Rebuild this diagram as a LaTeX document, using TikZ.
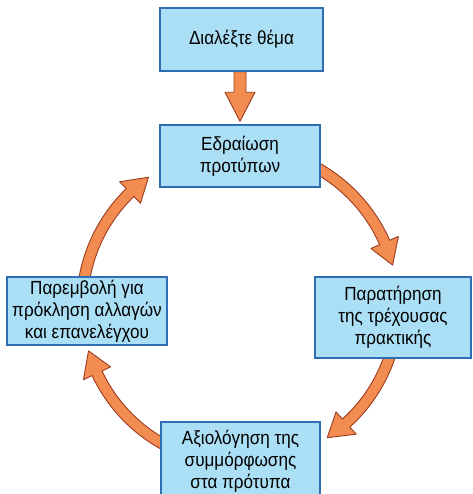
\documentclass[tikz,border=0pt]{standalone}
\usepackage{fontspec}
\setmainfont{Liberation Sans}[FakeStretch=0.9]
\usetikzlibrary{calc,positioning}
\pgfdeclarelayer{background}
\pgfsetlayers{background,main}
\definecolor{boxfill}{HTML}{ABDFF5}
\definecolor{boxline}{HTML}{2F6EB5}
\definecolor{arrfill}{HTML}{F28C50}
\definecolor{arrline}{HTML}{9C3B1F}
\tikzset{
  stage/.style={
    shape = rectangle,
    draw = boxline,
    line width = 1.4pt,
    fill = boxfill,
    align = center,
    inner sep = 0pt,
    font = \fontsize{19}{22}\selectfont
  },
  blockarrow/.style={
    draw = arrline,
    line width = 0.9pt,
    fill = arrfill,
    line join = round
  },
}

\begin{document}
\begin{tikzpicture}[x=1pt,y=1pt]
\path[use as bounding box, clip] (0,0) rectangle (472,494);
\coordinate (cyc) at (240,188);
\node[stage, minimum width=163pt, minimum height=63pt] (topic) at (241.5,454.5) {Διαλέξτε θέμα};
\node[stage, minimum width=160pt, minimum height=62pt] (std) at (240,338) {Εδραίωση\\προτύπων};
\node[stage, minimum width=156pt, minimum height=81pt] (observe) at (393,176.5) {Παρατήρηση\\της τρέχουσας\\πρακτικής};
\node[stage, minimum width=159pt, minimum height=78pt] (assess) at (240.5,33) {Αξιολόγηση της\\συμμόρφωσης\\στα πρότυπα};
\node[stage, minimum width=160pt, minimum height=68pt] (intervene) at (87,183) {Παρεμβολή για\\πρόκληση αλλαγών\\και επανελέγχου};
\begin{pgfonlayer}{background}
% straight arrow into the cycle
\draw[blockarrow] ($(topic.south -| std.north)+(-6,0)$) -- ($(std.north)+(-6,32)$) -- ($(std.north)+(-15,32)$)
  -- ($(std.north)+(0,3)$) -- ($(std.north)+(15,32)$) -- ($(std.north)+(6,32)$) -- ($(topic.south -| std.north)+(6,0)$) -- cycle;
% curved arrows round the cycle
\foreach \s/\e [evaluate=\e as \b using \e+8.7] in {64/15, -15/-56.5, 242/196.5, 175/125.4}{
  \draw[blockarrow] ($(cyc)+(\s:163.5pt)$) arc[start angle=\s, end angle=\b, radius=163.5pt]
    -- ($(cyc)+(\b:173pt)$) -- ($(cyc)+(\e:158pt)$) -- ($(cyc)+(\b:143pt)$)
    -- ($(cyc)+(\b:152.5pt)$) arc[start angle=\b, end angle=\s, radius=152.5pt] -- cycle;
}
\end{pgfonlayer}
\end{tikzpicture}
\end{document}
